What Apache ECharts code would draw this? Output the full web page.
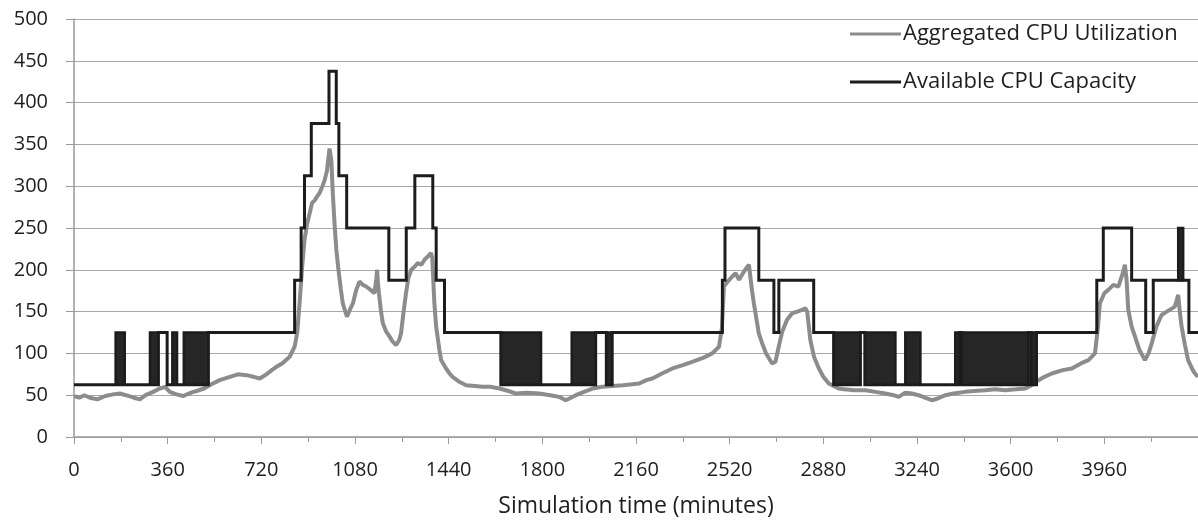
<!DOCTYPE html>
<html>
<head>
<meta charset="utf-8">
<script src="https://cdn.jsdelivr.net/npm/echarts@6/dist/echarts.min.js"></script>
<style>
html,body{margin:0;padding:0;background:#fff;}
#chart{width:1198px;height:522px;}
</style>
</head>
<body>
<div id="chart"></div>
<script>
// X axis tick labels (minutes)
const xTickLabels = [0, 360, 720, 1080, 1440, 1800, 2160, 2520, 2880, 3240, 3600, 3960];
const yTickLabels = [0, 50, 100, 150, 200, 250, 300, 350, 400, 450, 500];

// Aggregated CPU Utilization: [time, value]
const utilTime = [0,20,40,61,90,120,150,176,200,230,253,275,304,330,350,368,394,420,450,471,500,528,560,599,630,663,690,714,740,760,778,800,829,848,858,867,876,886,896,906,915,925,935,944,955,963,972,982,989,995,1002,1008,1015,1025,1033,1049,1060,1072,1085,1097,1110,1123,1140,1155,1162,1165,1168,1172,1180,1187,1200,1213,1225,1238,1250,1257,1266,1276,1285,1296,1310,1321,1335,1347,1360,1372,1377,1385,1392,1404,1411,1430,1443,1455,1481,1507,1540,1571,1600,1635,1670,1699,1740,1788,1830,1865,1890,1910,1929,1960,1993,2030,2069,2110,2146,2172,2200,2223,2260,2300,2340,2376,2420,2453,2479,2490,2498,2510,2530,2543,2556,2575,2594,2600,2606,2613,2632,2645,2660,2683,2696,2710,2722,2740,2760,2780,2798,2811,2818,2830,2845,2863,2880,2901,2939,2960,3000,3042,3080,3118,3150,3170,3195,3220,3246,3270,3297,3320,3349,3380,3425,3460,3502,3540,3579,3620,3656,3680,3707,3730,3758,3800,3835,3870,3899,3924,3935,3943,3960,3975,3995,4014,4030,4039,4045,4052,4065,4078,4095,4116,4130,4142,4160,4180,4200,4231,4244,4250,4257,4270,4282,4300,4308,4320];
const utilValue = [49,47,50,47,45,49,51,52,50,47,45,50,54,58,60,54,51,49,53,55,58,63,68,72,75,74,72,70,75,80,84,88,96,108,125,160,200,236,255,268,280,283,288,292,300,307,318,345,331,290,252,225,204,178,160,144,152,160,176,186,182,180,176,172,190,200,185,172,150,136,126,120,114,110,116,124,148,172,190,200,204,208,206,212,216,220,214,160,132,105,92,82,76,72,66,62,61,60,60,58,55,52,53,52,50,48,44,47,50,54,58,60,61,62,63,64,68,70,76,82,86,90,95,100,108,130,180,185,192,196,188,198,206,208,175,160,124,112,100,88,90,110,126,140,148,150,152,154,150,116,95,82,72,64,58,57,56,56,54,52,50,48,53,52,50,47,44,46,50,52,54,55,56,57,56,57,58,62,68,72,76,80,82,88,92,100,130,160,172,176,182,180,195,206,190,152,132,120,104,92,100,112,132,146,150,156,170,150,132,110,92,80,76,72];

// Available CPU Capacity: step changes [time, value held until next time]
const capTime = [0,160,195,292,324,358,378,396,422,516,848,873,886,912,980,1008,1018,1048,1210,1277,1310,1379,1392,1424,1641,1795,1913,2005,2046,2068,2492,2502,2632,2690,2709,2843,2920,3022,3040,3157,3195,3253,3387,3404,3412,3668,3680,3699,3931,3956,4065,4119,4148,4244,4263,4285,4320];
const capValue = [62.5,62.5,62.5,62.5,125,62.5,62.5,62.5,62.5,125,187.5,250,312.5,375,437.5,375,312.5,250,187.5,250,312.5,250,187.5,125,62.5,62.5,62.5,125,62.5,125,187.5,250,187.5,125,187.5,125,62.5,125,62.5,62.5,62.5,62.5,62.5,125,62.5,125,62.5,125,187.5,250,187.5,125,187.5,187.5,187.5,125,125];

// Periods of rapid switching of capacity: start, end, low, high
const switchStart = [160,292,378,422,1641,1913,2046,2920,3040,3195,3387,3412,3680,4244];
const switchEnd   = [195,324,396,516,1795,2005,2068,3022,3157,3253,3404,3668,3699,4263];
const switchLow   = [62.5,62.5,62.5,62.5,62.5,62.5,62.5,62.5,62.5,62.5,62.5,62.5,62.5,187.5];
const switchHigh  = [125,125,125,125,125,125,125,125,125,125,125,125,125,250];

const utilData = utilTime.map((t, i) => [t, utilValue[i]]);
const capData = capTime.map((t, i) => [t, capValue[i]]);
const switchData = switchStart.map((s, i) => [s, switchEnd[i], switchLow[i], switchHigh[i]]);

const FONT = 'Open Sans';
const TXT = '#1e1e1e';
const chart = echarts.init(document.getElementById('chart'), null, {renderer: 'canvas'});
chart.setOption({
  animation: false,
  backgroundColor: '#ffffff',
  textStyle: {fontFamily: FONT},
  grid: {left: 74, right: 0, top: 19, bottom: 85, containLabel: false, outerBoundsMode: 'none'},
  legend: {
    data: ['Aggregated CPU Utilization', 'Available CPU Capacity'],
    orient: 'vertical',
    left: 845, top: 18,
    icon: 'rect', itemWidth: 51, itemHeight: 3, itemGap: 26,
    textStyle: {fontFamily: FONT, fontSize: 22, color: TXT, padding: [0, 0, 0, -3]},
    selectedMode: false
  },
  xAxis: {
    type: 'value', min: 0, max: 4320, interval: 360,
    name: 'Simulation time (minutes)', nameLocation: 'middle', nameGap: 58,
    nameTextStyle: {fontFamily: FONT, fontSize: 23, color: TXT},
    axisLine: {show: true, lineStyle: {color: '#9a9a9a', width: 1.5}},
    axisTick: {show: true, length: 7, lineStyle: {color: '#9a9a9a'}},
    minorTick: {show: true, splitNumber: 2, length: 5, lineStyle: {color: '#9a9a9a'}},
    splitLine: {show: false},
    axisLabel: {
      fontFamily: FONT, fontSize: 20, color: TXT, margin: 23,
      formatter: v => xTickLabels.indexOf(v) >= 0 ? String(v) : ''
    }
  },
  yAxis: {
    type: 'value', min: 0, max: 500, interval: 50,
    axisLine: {show: true, lineStyle: {color: '#9a9a9a', width: 1.5}},
    axisTick: {show: true, length: 8, lineStyle: {color: '#9a9a9a'}},
    splitLine: {show: true, lineStyle: {color: '#a8a8a8', width: 1}},
    axisLabel: {
      fontFamily: FONT, fontSize: 20, color: TXT, margin: 26,
      formatter: v => yTickLabels.indexOf(v) >= 0 ? String(v) : ''
    }
  },
  series: [
    {
      name: 'Aggregated CPU Utilization', type: 'line', data: utilData,
      showSymbol: false, symbol: 'none', smooth: false,
      lineStyle: {color: '#8c8c8c', width: 4},
      itemStyle: {color: '#8c8c8c'}, z: 2
    },
    {
      name: 'Available CPU Capacity', type: 'line', data: capData, step: 'end',
      showSymbol: false, symbol: 'none',
      lineStyle: {color: '#1c1c1c', width: 3, join: 'miter'},
      itemStyle: {color: '#1c1c1c'}, z: 3
    },
    {
      name: 'switching', type: 'custom', data: switchData, z: 4,
      encode: {x: [0, 1], y: [2, 3]},
      renderItem: function (params, api) {
        const p1 = api.coord([api.value(0), api.value(3)]);
        const p2 = api.coord([api.value(1), api.value(2)]);
        return {
          type: 'rect',
          shape: {x: p1[0], y: p1[1], width: p2[0] - p1[0], height: p2[1] - p1[1]},
          style: {fill: '#262626', stroke: '#1c1c1c', lineWidth: 2.5}
        };
      }
    }
  ]
});
</script>
</body>
</html>
